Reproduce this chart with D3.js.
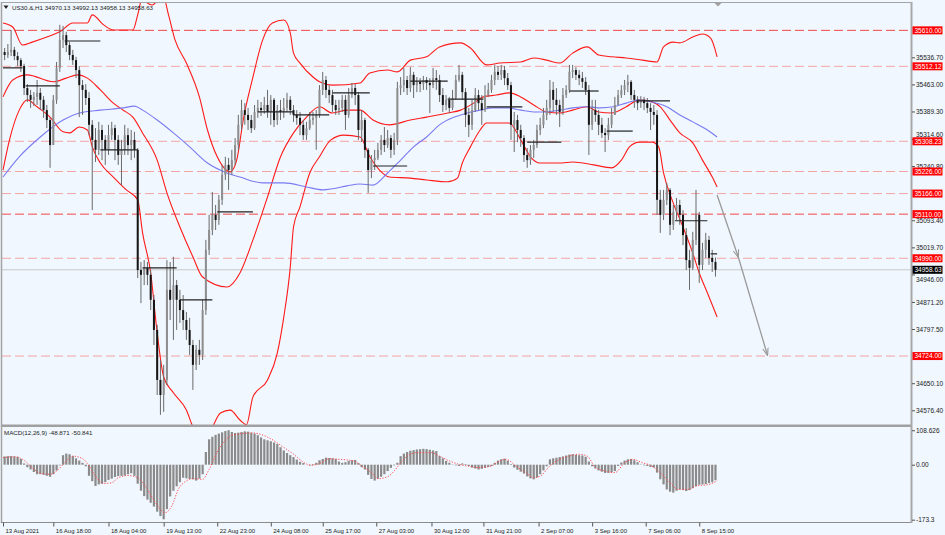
<!DOCTYPE html>
<html><head><meta charset="utf-8">
<script src="https://cdn.jsdelivr.net/npm/d3@7/dist/d3.min.js"></script>
<style>
body{margin:0;background:#f0f7fe;}
svg{display:block;font-family:"Liberation Sans",Arial,sans-serif;}
</style>
</head><body>
<svg id="c" width="945" height="535"></svg>
<script>
// ---------------- DATA ----------------
const symbolTitle = "US30.&,H1";
const lastBar = [34970.13, 34992.13, 34958.13, 34958.63];
const macdTitle = "MACD(12,26,9) -48.871 -50.841";

// candles (each candle = 2 H1 bars), positioned at hour-bar index 2k+1
const opens = [
35551,35543,35551,35557,35540,35529,35513,35453,35434,35421,
35429,35440,35421,35393,35366,35298,35421,35508,35584,35597,
35570,35543,35529,35502,35461,35448,35426,35353,35312,35285,
35339,35312,35285,35325,35344,35312,35271,35285,35325,35298,
35312,35285,34958,34945,34964,34945,34877,34795,34659,34618,
34659,34904,34877,34917,34877,34849,34822,34795,34754,34700,
34741,34727,34849,35013,35067,35108,35094,35149,35217,35244,
35230,35257,35298,35353,35393,35380,35366,35344,35388,35399,
35393,35407,35388,35421,35366,35393,35388,35399,35421,35393,
35380,35372,35353,35325,35344,35366,35372,35380,35448,35475,
35448,35434,35407,35393,35399,35421,35380,35434,35453,35434,
35339,35366,35285,35230,35257,35263,35285,35312,35298,35317,
35285,35312,35453,35461,35475,35453,35489,35461,35470,35464,
35475,35467,35461,35480,35475,35434,35407,35421,35399,35426,
35475,35489,35442,35380,35353,35393,35434,35412,35393,35434,
35448,35475,35497,35489,35502,35480,35461,35353,35366,35339,
35317,35271,35257,35285,35298,35339,35353,35380,35399,35448,
35421,35407,35388,35434,35448,35497,35502,35489,35480,35470,
35448,35353,35393,35380,35353,35331,35325,35353,35380,35407,
35434,35448,35461,35470,35434,35421,35412,35421,35412,35399,
35388,35380,35149,35108,35149,35176,35081,35116,35135,35108,
35053,34985,34964,35040,35108,34972,35013,35040,34991,34980];
const highs = [
35562,35573,35611,35565,35551,35535,35519,35464,35448,35442,
35475,35453,35431,35407,35374,35434,35524,35625,35622,35606,
35578,35557,35538,35513,35475,35464,35442,35366,35344,35361,
35353,35325,35353,35361,35353,35325,35312,35353,35344,35339,
35334,35290,34980,34985,34980,34958,34890,34809,34713,34700,
34985,34980,34994,34931,34904,34890,34844,34828,34768,34754,
34768,34877,35040,35108,35170,35135,35162,35244,35266,35263,
35285,35317,35380,35421,35412,35399,35380,35407,35421,35415,
35429,35448,35434,35426,35407,35421,35426,35440,35431,35407,
35393,35388,35366,35361,35388,35388,35393,35461,35497,35486,
35461,35448,35421,35421,35434,35434,35453,35467,35464,35442,
35393,35372,35290,35271,35285,35304,35325,35347,35339,35325,
35331,35470,35483,35508,35486,35510,35497,35483,35480,35486,
35483,35480,35508,35502,35489,35453,35434,35429,35448,35489,
35516,35497,35453,35399,35421,35453,35448,35434,35461,35467,
35489,35516,35513,35516,35513,35494,35470,35388,35380,35353,
35325,35290,35298,35312,35353,35372,35399,35421,35475,35470,
35453,35421,35453,35461,35516,35516,35510,35502,35497,35483,
35461,35421,35421,35393,35372,35344,35372,35399,35429,35448,
35461,35475,35489,35475,35448,35431,35431,35429,35426,35412,
35407,35393,35176,35176,35195,35181,35135,35154,35149,35121,
35072,35013,35062,35176,35116,35032,35059,35051,35013,34992.13];
const lows = [
35529,35535,35540,35529,35513,35497,35434,35415,35399,35404,
35407,35393,35372,35344,35236,35298,35410,35497,35562,35551,
35529,35516,35480,35374,35380,35407,35325,35121,35252,35271,
35257,35244,35271,35312,35257,35244,35189,35271,35271,35257,
35263,34936,34868,34917,34917,34849,34754,34618,34564,34572,
34645,34822,34768,34795,34814,34795,34768,34727,34632,34686,
34700,34713,34836,34999,35053,35067,35081,35135,35203,35176,
35217,35244,35285,35339,35353,35339,35331,35339,35372,35377,
35383,35372,35353,35347,35353,35366,35372,35388,35380,35361,
35353,35325,35312,35312,35339,35353,35285,35372,35434,35426,
35412,35388,35380,35380,35388,35339,35372,35426,35407,35312,
35306,35263,35168,35208,35230,35257,35271,35279,35290,35263,
35271,35298,35434,35442,35434,35442,35426,35442,35442,35448,
35448,35385,35453,35448,35415,35388,35393,35385,35393,35421,
35470,35421,35347,35320,35339,35388,35393,35353,35388,35429,
35440,35461,35475,35475,35461,35448,35312,35279,35306,35293,
35252,35236,35244,35263,35290,35325,35344,35366,35380,35388,
35380,35347,35380,35426,35440,35480,35475,35461,35453,35434,
35271,35339,35361,35325,35317,35279,35312,35344,35380,35407,
35426,35434,35442,35421,35399,35393,35399,35393,35385,35339,
35353,35108,35059,35094,35135,35053,35067,35094,35081,35026,
34958,34904,34958,35026,34923,34958,34991,34972,34953,34940];
const closes = [
35543,35551,35557,35540,35529,35513,35453,35434,35421,35429,
35440,35421,35393,35366,35298,35421,35508,35584,35597,35570,
35543,35529,35502,35461,35448,35426,35353,35312,35285,35339,
35312,35285,35325,35344,35312,35271,35285,35325,35298,35312,
35285,34958,34945,34964,34945,34877,34795,34659,34618,34659,
34904,34877,34917,34877,34849,34822,34795,34754,34700,34741,
34727,34849,35013,35067,35108,35094,35149,35217,35244,35230,
35257,35298,35353,35393,35380,35366,35344,35388,35399,35393,
35407,35388,35421,35366,35393,35388,35399,35421,35393,35380,
35372,35353,35325,35344,35366,35372,35380,35448,35475,35448,
35434,35407,35393,35399,35421,35380,35434,35453,35434,35339,
35366,35285,35230,35257,35263,35285,35312,35298,35317,35285,
35312,35453,35461,35475,35453,35489,35461,35470,35464,35475,
35467,35461,35480,35475,35434,35407,35421,35399,35426,35475,
35489,35442,35380,35353,35393,35434,35412,35393,35434,35448,
35475,35497,35489,35502,35480,35461,35353,35366,35339,35317,
35271,35257,35285,35298,35339,35353,35380,35399,35448,35421,
35407,35388,35434,35448,35497,35502,35489,35480,35470,35448,
35353,35393,35380,35353,35331,35325,35353,35380,35407,35434,
35448,35461,35470,35434,35421,35412,35421,35412,35399,35388,
35380,35149,35108,35149,35176,35081,35116,35135,35108,35053,
34985,34964,35040,35108,34972,35013,35040,34991,34980,34958.63];

// MACD main (histogram), one value per candle
const macdMain = [
26,27,27,26,25,18,4,-8,-15,-23,
-30,-30,-32,-35,-38,-30,-18,-2,30,35,
33,27,20,13,6,-5,-35,-52,-67,-62,
-60,-55,-48,-44,-39,-36,-35,-34,-30,-27,
-35,-60,-82,-99,-110,-120,-132,-148,-162,-172,
-140,-100,-82,-68,-55,-41,-43,-45,-46,-50,
-44,-30,40,80,88,94,98,102,106,108.6,
103,100,101,103,105,104,101,98,93,86,
80,77,74,70,65,55,45,37,30,24,
16,9,5,0,-2,2,6,14,18,22,
21,20,18,10,6,8,12,14,15,5,
-8,-15,-32,-45,-50,-44,-38,-30,-20,-10,
-2,6,27,35,40,44,46,48,49,50,
49,47,45,43,27,20,12,6,1,-2,
-4,4,2,-4,-9,-12,-15,-13,-10,-7,
-4,6,13,17,19,13,2,-9,-16,-22,
-28,-37,-43,-46,-40,-30,-18,-5,17,20,
22,24,26,29,32,33,31,30,29,25,
10,-5,-12,-18,-22,-26,-26,-24,-20,-4,
7,13,17,18,14,8,1,-2,-4,-7,
-9,-25,-46,-62,-78,-85,-88,-82,-78,-80,
-83,-80,-74,-68,-63,-62,-61,-58,-55,-48.871];

// MACD signal line: [hour-bar index, value]
const macdSignal = [[0,22],[7,25],[12,17],[18,-9],[23,-27],[29,-30],[33,-20],[38,6],[43,27],[49,19],[53,-4],[57,-36],[62,-59],[67,-57],[71,-41],[77,-34],[83,-41],[89,-78],[94,-120],[100,-151],[104,-130],[108,-78],[113,-51],[117,-44],[123,-46],[127,-15],[132,40],[142,94],[154,100],[163,87],[172,58],[179,33],[185,8],[190,-2],[196,6],[201,19],[207,17],[216,12],[221,-4],[227,-25],[231,-44],[237,-38],[241,-20],[245,6],[249,27],[255,38],[264,38],[269,27],[275,12],[281,1],[286,-4],[293,-9],[301,-4],[306,12],[310,17],[316,-4],[322,-25],[327,-41],[331,-36],[337,-4],[343,17],[350,29],[355,33],[360,27],[365,-9],[371,-20],[377,-25],[383,6],[388,17],[394,6],[399,-2],[405,-25],[411,-57],[416,-78],[422,-78],[427,-67],[435,-62],[440,-50.841]];

// Bollinger bands and moving average: [hour-bar index, price]
const bbUpper = [[0,35630],[6,35619],[12,35570],[18,35578],[27,35592],[35,35606],[43,35630],[52,35630],[55,35652],[62,35625],[68,35611],[80,35611],[83,35652],[86,35701],[89,35684],[92,35679],[95,35690],[99,35698],[102,35652],[106,35584],[113,35521],[121,35429],[126,35339],[132,35266],[140,35225],[144,35257],[148,35366],[154,35483],[160,35584],[166,35630],[173,35638],[177,35603],[179,35548],[183,35521],[191,35483],[195,35470],[203,35461],[220,35467],[226,35494],[237,35502],[243,35497],[251,35529],[261,35538],[269,35565],[282,35576],[288,35562],[298,35516],[306,35521],[319,35524],[327,35535],[335,35529],[343,35521],[351,35548],[360,35565],[367,35543],[375,35538],[384,35535],[394,35529],[403,35524],[407,35565],[413,35578],[417,35576],[425,35592],[431,35600],[436,35589],[440,35538]];
const bbMiddle = [[0,35429],[6,35475],[15,35489],[31,35470],[39,35480],[46,35489],[52,35480],[60,35448],[68,35412],[74,35393],[80,35374],[86,35331],[95,35257],[101,35168],[109,35075],[117,34994],[123,34939],[138,34912],[146,34950],[154,35040],[163,35157],[171,35266],[179,35331],[187,35374],[195,35402],[203,35385],[212,35393],[220,35393],[228,35366],[238,35353],[251,35366],[261,35374],[274,35385],[282,35393],[290,35412],[296,35429],[304,35434],[312,35440],[319,35429],[327,35407],[335,35388],[343,35385],[351,35393],[360,35402],[367,35388],[375,35385],[384,35402],[392,35421],[400,35415],[405,35402],[411,35366],[417,35331],[425,35304],[431,35257],[437,35211],[440,35184]];
const bbLower = [[0,35230],[4,35312],[10,35393],[15,35421],[21,35402],[29,35374],[37,35334],[41,35331],[47,35347],[52,35339],[55,35293],[60,35249],[68,35211],[76,35176],[83,35149],[86,35059],[91,34950],[95,34787],[99,34667],[105,34624],[113,34577],[117,34531],[121,34496],[128,34523],[134,34569],[140,34577],[146,34550],[150,34537],[154,34613],[163,34659],[169,34732],[173,34830],[177,34966],[179,35075],[183,35130],[189,35222],[195,35266],[202,35312],[210,35325],[220,35320],[226,35266],[232,35230],[238,35211],[251,35208],[261,35203],[274,35198],[280,35208],[283,35249],[288,35293],[294,35339],[298,35358],[312,35358],[319,35312],[325,35266],[331,35249],[343,35249],[351,35252],[364,35244],[375,35236],[381,35257],[386,35293],[392,35306],[400,35306],[404,35293],[407,35222],[413,35140],[419,35075],[425,35004],[429,34950],[434,34896],[440,34830]];
const maBlue = [[0,35211],[10,35266],[23,35320],[37,35366],[47,35385],[60,35393],[74,35399],[81,35404],[86,35393],[95,35366],[105,35331],[115,35293],[126,35249],[138,35222],[146,35211],[160,35195],[173,35195],[187,35184],[197,35176],[203,35179],[212,35187],[220,35192],[228,35189],[237,35222],[245,35257],[253,35293],[261,35320],[269,35353],[277,35372],[286,35385],[294,35393],[302,35399],[311,35399],[319,35393],[327,35388],[335,35388],[343,35393],[351,35399],[360,35402],[368,35399],[376,35402],[384,35412],[392,35421],[400,35415],[409,35402],[417,35380],[425,35361],[434,35339],[440,35320]];

// horizontal levels
const levels = [35610.00, 35512.12, 35308.23, 35226.00, 35166.00, 35110.00, 34990.00, 34724.00];
const levelStrong = [true, false, false, false, false, true, false, false];
const currentPrice = 34958.63;

// daily open segments
const segStart = [0,14,38,60,86,109,132,157,179,203,228,251,274,298,323,349,372,391,414,436];
const segEnd   = [12,35,60,83,107,129,154,179,201,226,249,274,296,320,344,367,388,411,434,440];
const segPrice = [35508,35459,35581,35285,34964,34877,35116,35388,35380,35440,35241,35472,35423,35402,35306,35445,35336,35418,35092,35002];

// projection arrow
const arrowBars = [440, 453, 471];
const arrowPrices = [35162, 34994, 34727];

// axis ticks (the ones hidden behind level labels in the reference are left out)
const priceTicks = [35536.70,35463.00,35389.30,35314.60,35240.80,35093.40,35019.70,34946.00,34871.20,34797.50,34650.10,34576.40];
const macdTicks = [108.626, 0, -173.3];
const macdTickLabels = ["108.626", "0.00", "-173.3"];
const timeBars = [0,31,65,99,132,165,197,230,264,296,330,363,396,429];
const timeLabels = ["13 Aug 2021","16 Aug 18:00","18 Aug 04:00","19 Aug 13:00","22 Aug 23:00","24 Aug 08:00","25 Aug 17:00","27 Aug 03:00","30 Aug 12:00","31 Aug 21:00","2 Sep 07:00","3 Sep 16:00","7 Sep 06:00","8 Sep 15:00"];

// ---------------- DRAW ----------------
const BG = "#f0f7fe";
const PL = 2, PR = 911, PT = 3, PB = 425, MT = 427, MB = 522;
const svg = d3.select("#c");
const x = d3.scaleLinear().domain([0, 440]).range([3, 717.1]);
const y = d3.scaleLinear().domain([34576.4, 35536.7]).range([410.3, 57.3]);
const ym = d3.scaleLinear().domain([-173.3, 0]).range([519.7, 464.7]);
const candleBar = k => 2 * k + 1;

svg.append("rect").attr("width", 945).attr("height", 535).attr("fill", BG);

const defs = svg.append("defs");
defs.append("clipPath").attr("id", "clipMain").append("rect")
  .attr("x", PL).attr("y", PT).attr("width", PR - PL).attr("height", PB - PT);
defs.append("clipPath").attr("id", "clipMacd").append("rect")
  .attr("x", PL).attr("y", MT).attr("width", PR - PL).attr("height", MB - MT);
defs.append("marker").attr("id", "arr").attr("viewBox", "0 0 10 10")
  .attr("refX", 9).attr("refY", 5).attr("markerWidth", 6).attr("markerHeight", 6)
  .attr("orient", "auto").append("path").attr("d", "M0,1.5L10,5L0,8.5").attr("fill", "none")
  .attr("stroke", "#9a9a9a").attr("stroke-width", 1.4);

const main = svg.append("g").attr("clip-path", "url(#clipMain)");

// level lines
main.selectAll(".lvl").data(levels).join("line")
  .attr("x1", PL).attr("x2", PR)
  .attr("y1", d => y(d)).attr("y2", d => y(d))
  .attr("stroke", (d, i) => levelStrong[i] ? "#f04848" : "#f4a4a4")
  .attr("stroke-width", 1).attr("stroke-dasharray", "9,4");

// current price line
main.append("line").attr("x1", PL).attr("x2", PR)
  .attr("y1", y(currentPrice)).attr("y2", y(currentPrice))
  .attr("stroke", "#c8c8c8").attr("stroke-width", 1);

// indicator lines
const lineGen = d3.line().x(d => x(d[0])).y(d => y(d[1])).curve(d3.curveMonotoneX);
[[bbUpper, "#ff1a1a"], [bbMiddle, "#ff1a1a"], [bbLower, "#ff1a1a"], [maBlue, "#7a7af2"]].forEach(([data, col]) => {
  main.append("path").attr("d", lineGen(data)).attr("fill", "none")
    .attr("stroke", col).attr("stroke-width", 1.1);
});

// candles
const candles = closes.map((c, k) => ({k, o: opens[k], h: highs[k], l: lows[k], c}));
const cg = main.append("g");
cg.selectAll(".wick").data(candles).join("line")
  .attr("x1", d => x(candleBar(d.k))).attr("x2", d => x(candleBar(d.k)))
  .attr("y1", d => y(d.h)).attr("y2", d => y(d.l))
  .attr("stroke", "#6a6a6a").attr("stroke-width", 1);
cg.selectAll(".body").data(candles).join("rect")
  .attr("x", d => x(candleBar(d.k)) - 1)
  .attr("width", 2)
  .attr("y", d => Math.min(y(d.o), y(d.c)))
  .attr("height", d => Math.max(1, Math.abs(y(d.o) - y(d.c))))
  .attr("fill", d => d.c >= d.o ? "#8e8e8e" : "#151515");

// daily open segments
main.selectAll(".seg").data(segPrice).join("line")
  .attr("x1", (d, i) => x(segStart[i])).attr("x2", (d, i) => x(segEnd[i]))
  .attr("y1", d => y(d)).attr("y2", d => y(d))
  .attr("stroke", "#222").attr("stroke-width", 1.2);

// projection arrow
for (let i = 0; i < arrowBars.length - 1; i++) {
  main.append("line")
    .attr("x1", x(arrowBars[i])).attr("y1", y(arrowPrices[i]))
    .attr("x2", x(arrowBars[i + 1])).attr("y2", y(arrowPrices[i + 1]))
    .attr("stroke", "#9a9a9a").attr("stroke-width", 1.3).attr("marker-end", "url(#arr)");
}

// MACD panel
const mg = svg.append("g").attr("clip-path", "url(#clipMacd)");
mg.selectAll(".hist").data(macdMain).join("rect")
  .attr("x", (d, k) => x(candleBar(k)) - 1.1).attr("width", 2.2)
  .attr("y", d => Math.min(ym(0), ym(d)))
  .attr("height", d => Math.abs(ym(d) - ym(0)))
  .attr("fill", "#8a8a8a");
const sigGen = d3.line().x(d => x(d[0])).y(d => ym(d[1])).curve(d3.curveMonotoneX);
mg.append("path").attr("d", sigGen(macdSignal)).attr("fill", "none")
  .attr("stroke", "#ff4a4a").attr("stroke-width", 1).attr("stroke-dasharray", "1.2,1.6");

// frames
svg.append("line").attr("x1", 1.5).attr("x2", 1.5).attr("y1", 2).attr("y2", 523).attr("stroke", "#a4a4a4").attr("stroke-width", 1.5);
svg.append("line").attr("x1", 1).attr("x2", 912).attr("y1", 2.5).attr("y2", 2.5).attr("stroke", "#a4a4a4");
svg.append("rect").attr("x", 1).attr("y", 424.5).attr("width", 911).attr("height", 2.5).attr("fill", "#a0a0a0");
svg.append("line").attr("x1", 1).attr("x2", 912).attr("y1", 522.5).attr("y2", 522.5).attr("stroke", "#8c8c8c");
svg.append("line").attr("x1", 911.5).attr("x2", 911.5).attr("y1", 2).attr("y2", 523).attr("stroke", "#a8a8a8").attr("stroke-width", 2);

// chart shift marker
svg.append("path").attr("d", "M714,2.5L722,2.5L718,6.5Z").attr("fill", "#a0a0a0");

// price axis
const ay = svg.append("g").attr("transform", `translate(${PR + 1},0)`)
  .call(d3.axisRight(y).tickValues(priceTicks).tickFormat(d3.format(".2f")).tickSize(3).tickPadding(1));
ay.select(".domain").remove();
ay.attr("font-size", 6.5).attr("font-family", "Liberation Sans, Arial, sans-serif");
ay.selectAll("text").attr("fill", "#222");
ay.selectAll("line").attr("stroke", "#555");
// nudge the two labels that sit right beside a level box so both stay readable
ay.selectAll(".tick").filter(d => d === 35314.60).select("text").attr("y", -5);
ay.selectAll(".tick").filter(d => d === 34946.00).select("text").attr("y", 5);

// level labels
const lg = svg.append("g");
levels.forEach(l => {
  lg.append("rect").attr("x", 912.5).attr("y", y(l) - 4).attr("width", 30).attr("height", 8).attr("fill", "#ff0000");
  lg.append("text").attr("x", 914.5).attr("y", y(l) + 2.4).attr("fill", "#fff")
    .attr("font-size", 6.5).text(d3.format(".2f")(l));
});
lg.append("rect").attr("x", 912.5).attr("y", y(currentPrice) - 4).attr("width", 30).attr("height", 8).attr("fill", "#000");
lg.append("text").attr("x", 914.5).attr("y", y(currentPrice) + 2.4).attr("fill", "#fff")
  .attr("font-size", 6.5).text(d3.format(".2f")(currentPrice));

// MACD axis
const am = svg.append("g").attr("transform", `translate(${PR + 1},0)`)
  .call(d3.axisRight(ym).tickValues(macdTicks).tickFormat((d, i) => macdTickLabels[i]).tickSize(3).tickPadding(1));
am.select(".domain").remove();
am.attr("font-size", 6.5).attr("font-family", "Liberation Sans, Arial, sans-serif");
am.selectAll("text").attr("fill", "#222");
am.selectAll("line").attr("stroke", "#555");

// time axis
const ax = svg.append("g").attr("transform", `translate(0,${MB + 0.5})`)
  .call(d3.axisBottom(x).tickValues(timeBars).tickFormat((d, i) => timeLabels[i]).tickSize(4).tickPadding(2));
ax.select(".domain").remove();
ax.attr("font-size", 6).attr("font-family", "Liberation Sans, Arial, sans-serif");
ax.selectAll("text").attr("text-anchor", "start").attr("dx", 2).attr("fill", "#222");
ax.selectAll("line").attr("stroke", "#555");

// titles
svg.append("path").attr("d", "M3.5,5.5L8.5,5.5L6,9Z").attr("fill", "#222");
svg.append("text").attr("x", 12).attr("y", 9.5).attr("font-size", 6.2).attr("fill", "#222")
  .text(symbolTitle + "  " + lastBar.map(v => v.toFixed(2)).join(" "));
svg.append("text").attr("x", 4).attr("y", 435).attr("font-size", 6.2).attr("fill", "#222")
  .text(macdTitle);
</script>
</body></html>
